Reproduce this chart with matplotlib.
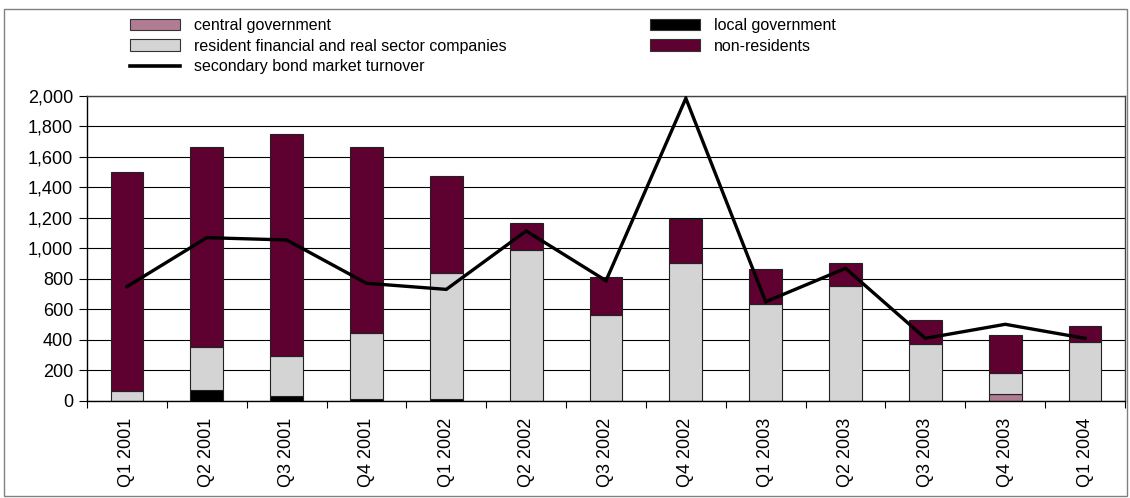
import numpy as np
import matplotlib.pyplot as plt
from matplotlib.patches import Patch, Rectangle
from matplotlib.lines import Line2D

plt.rcParams['font.family'] = ['Liberation Sans', 'DejaVu Sans']
plt.rcParams['font.size'] = 13

quarters = ["Q1 2001", "Q2 2001", "Q3 2001", "Q4 2001", "Q1 2002", "Q2 2002",
            "Q3 2002", "Q4 2002", "Q1 2003", "Q2 2003", "Q3 2003", "Q4 2003",
            "Q1 2004"]

central_gov = [0, 0, 0, 0, 0, 0, 0, 0, 0, 0, 0, 42, 0]
local_gov = [0, 68, 28, 12, 10, 0, 0, 0, 0, 0, 0, 0, 0]
resident_cos = [66, 282, 267, 432, 825, 986, 564, 903, 632, 754, 374, 142, 387]
non_residents = [1434, 1312, 1452, 1218, 638, 177, 245, 286, 232, 151, 153, 247, 101]
turnover = [748, 1069, 1054, 770, 730, 1113, 787, 1983, 649, 868, 409, 501, 409]

c_central = "#b07c94"
c_local = "#000000"
c_resident = "#d4d4d4"
c_nonres = "#5e0030"

fig = plt.figure(figsize=(11.3, 4.98), dpi=100)
fig.patches.append(Rectangle((4 / 1130, 2 / 498), 1123 / 1130, 487 / 498,
                             transform=fig.transFigure, fill=False,
                             edgecolor="#808080", linewidth=1.0))

ax = fig.add_axes([87 / 1130, (498 - 400.7) / 498, 1038 / 1130, 305 / 498])

x = np.arange(len(quarters))
w = 0.41
bottom = np.zeros(len(quarters))
for vals, col in [(central_gov, c_central), (local_gov, c_local),
                  (resident_cos, c_resident), (non_residents, c_nonres)]:
    vals = np.array(vals, dtype=float)
    ax.bar(x, vals, w, bottom=bottom, color=col, edgecolor="#222222",
           linewidth=0.8, zorder=2)
    bottom += vals

ax.plot(x, turnover, color="black", linewidth=2.4, zorder=3,
        solid_joinstyle="miter")

ax.set_xlim(-0.5, len(quarters) - 0.5)
ax.set_ylim(0, 2000)
ax.set_yticks(np.arange(0, 2001, 200))
ax.set_yticklabels([f"{v:,}" for v in range(0, 2001, 200)])
ax.yaxis.grid(True, color="black", linewidth=0.8, zorder=0)
ax.set_axisbelow(True)

ax.set_xticks(x)
ax.set_xticklabels(quarters, rotation=90)
ax.set_xticks(np.arange(-0.5, len(quarters), 1), minor=True)
ax.tick_params(axis="x", which="major", length=0, pad=12)
ax.tick_params(axis="x", which="minor", length=5, width=0.8, direction="out")
ax.tick_params(axis="y", length=6, width=0.8, direction="out", pad=4)
for s in ax.spines.values():
    s.set_linewidth(1.0)
ax.spines["left"].set_color("black")
ax.spines["bottom"].set_color("black")
ax.spines["top"].set_color("#444444")
ax.spines["right"].set_color("#444444")

h_central = Patch(facecolor=c_central, edgecolor="#333333", linewidth=0.8)
h_local = Patch(facecolor=c_local, edgecolor="#333333", linewidth=0.8)
h_res = Patch(facecolor=c_resident, edgecolor="#333333", linewidth=0.8)
h_non = Patch(facecolor=c_nonres, edgecolor="#333333", linewidth=0.8)
h_line = Line2D([], [], color="black", linewidth=2.6)

legend_kw = dict(frameon=False, loc="upper left", handlelength=3.1,
                 handleheight=0.75, handletextpad=0.9, labelspacing=0.36,
                 borderpad=0, borderaxespad=0, fontsize=11.5)
fig.legend([h_central, h_res, h_line],
           ["central government",
            "resident financial and real sector companies",
            "secondary bond market turnover"],
           bbox_to_anchor=(130 / 1130, (498 - 18) / 498), **legend_kw)
fig.legend([h_local, h_non], ["local government", "non-residents"],
           bbox_to_anchor=(650 / 1130, (498 - 18) / 498), **legend_kw)

fig.savefig("out.png", dpi=100)
